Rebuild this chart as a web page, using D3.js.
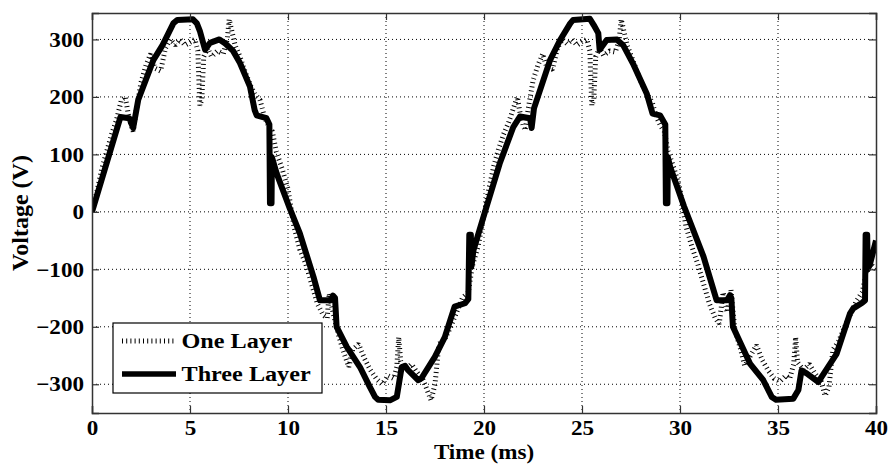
<!DOCTYPE html>
<html>
<head>
<meta charset="utf-8">
<script src="https://cdn.jsdelivr.net/npm/d3@7"></script>
<style>
  html, body { margin: 0; padding: 0; background: #fff; }
  text.serif { font-family: "Liberation Serif", "DejaVu Serif", serif; font-weight: bold; }
</style>
</head>
<body>
<svg id="chart" width="891" height="464"></svg>
<script>
// ---------- data ----------
const xTicks = [0, 5, 10, 15, 20, 25, 30, 35, 40];
const yTicks = [-300, -200, -100, 0, 100, 200, 300];
const seriesNames = ["One Layer", "Three Layer"];

// Three Layer (time in ms, voltage in V)
const threeT = [0, 1.45, 1.9, 2.1, 2.36, 3.13, 3.6, 4.15, 4.35, 5.15, 5.35, 5.5, 5.68, 5.77, 6.02, 6.5, 6.8, 7.2, 7.55, 8.06, 8.3, 8.4, 8.9, 9.05, 9.08, 9.16, 9.18, 9.42, 10.1, 10.6, 11.3, 11.63, 12.14, 12.3, 12.4, 12.48, 13.0, 13.67, 14.18, 14.44, 14.6, 15.2, 15.55, 15.8, 15.97, 16.14, 16.65, 16.8, 17.5, 18.0, 18.5, 19.03, 19.2, 19.25, 19.33, 19.36, 19.46, 20.05,
  20.8, 21.5, 21.84, 22.35, 22.43, 22.55, 23.37, 23.9, 24.4, 24.55, 25.4, 25.6, 25.83, 25.9, 26.26, 26.77, 27.1, 27.6, 28.3, 28.6, 28.98, 29.25, 29.28, 29.36, 29.38, 29.5, 30.2, 30.68, 31.2, 31.87, 32.4, 32.55, 32.62, 32.7, 33.57, 34.25, 34.68, 34.9, 35.78, 36.04, 36.2, 36.46, 37.06, 37.99, 38.67, 38.84, 39.3, 39.44, 39.47, 39.55, 39.58, 39.7, 40];
const threeV = [0, 165, 163, 146, 195, 264, 290, 328, 334, 335, 328, 315, 293, 282, 294, 300, 293, 280, 259, 218, 177, 168, 163, 152, 15, 15, 95, 67, 5, -37, -113, -154, -154, -146, -150, -200, -235, -270, -305, -322, -327, -328, -322, -270, -268, -276, -293, -290, -252, -218, -165, -159, -152, -40, -40, -95, -67, 0,
  84, 148, 166, 163, 146, 180, 264, 300, 328, 334, 336, 325, 311, 282, 299, 300, 290, 258, 206, 171, 168, 152, 15, 15, 95, 78, 10, -32, -78, -154, -154, -145, -150, -200, -264, -293, -322, -327, -325, -310, -276, -281, -296, -247, -177, -168, -158, -154, -40, -40, -100, -90, -50];

// One Layer
const oneT = [0, 0.25, 0.5, 0.75, 1.0, 1.25, 1.5, 1.7, 1.85, 2.0, 2.1, 2.25, 2.5, 2.75, 3.0, 3.2, 3.5, 3.75, 4.0, 4.25, 4.5, 4.75, 5.0, 5.25, 5.4, 5.5, 5.6, 5.7, 5.9, 6.1, 6.4, 6.7, 6.9, 7.0, 7.1, 7.3, 7.55, 7.8, 8.06, 8.3, 8.57, 8.8, 9.0, 9.2, 9.4, 9.7, 10.0, 10.3, 10.6, 10.9, 11.2, 11.5, 11.8, 12.0, 12.1, 12.3, 12.5, 12.8, 13.1, 13.3, 13.6, 13.9, 14.2, 14.5, 14.8, 15.1, 15.4, 15.55, 15.65, 15.75, 16.0, 16.3, 16.6, 16.9, 17.1, 17.3, 17.5, 17.7, 18.0, 18.3, 18.6, 18.9, 19.2, 19.4, 19.7, 20.0,
  20.25, 20.5, 20.75, 21.0, 21.25, 21.5, 21.7, 21.85, 22.0, 22.1, 22.25, 22.5, 22.75, 23.0, 23.2, 23.5, 23.75, 24.0, 24.25, 24.5, 24.75, 25.0, 25.25, 25.4, 25.5, 25.6, 25.7, 25.9, 26.1, 26.4, 26.7, 26.9, 27.0, 27.1, 27.3, 27.55, 27.8, 28.06, 28.3, 28.57, 28.8, 29.0, 29.2, 29.4, 29.7, 30.0, 30.3, 30.6, 30.9, 31.2, 31.5, 31.8, 32.0, 32.2, 32.4, 32.6, 32.8, 33.1, 33.3, 33.6, 33.9, 34.2, 34.5, 34.8, 35.1, 35.4, 35.6, 35.8, 35.9, 36.0, 36.3, 36.6, 36.9, 37.2, 37.4, 37.6, 37.8, 38.1, 38.4, 38.7, 39.0, 39.3, 39.5, 39.7, 40.0];
const oneV = [0, 35, 75, 105, 135, 160, 195, 200, 170, 150, 140, 175, 225, 255, 275, 250, 245, 285, 300, 290, 300, 290, 295, 300, 280, 185, 195, 270, 285, 270, 280, 275, 300, 335, 320, 290, 270, 245, 222, 205, 195, 165, 150, 140, 105, 75, 40, -25, -65, -90, -125, -160, -180, -185, -142, -175, -205, -240, -270, -240, -230, -255, -275, -290, -300, -285, -290, -270, -218, -260, -275, -265, -280, -293, -310, -328, -300, -230, -222, -200, -175, -150, -140, -95, -60, -5,
  40, 80, 110, 135, 155, 180, 200, 170, 150, 142, 178, 228, 255, 275, 252, 248, 285, 300, 292, 300, 290, 296, 300, 280, 185, 195, 270, 285, 272, 280, 278, 300, 335, 320, 290, 268, 245, 222, 205, 192, 165, 150, 140, 105, 75, 40, -25, -60, -90, -125, -160, -185, -195, -140, -175, -136, -205, -240, -268, -250, -232, -258, -276, -290, -295, -285, -290, -265, -218, -262, -275, -265, -282, -295, -320, -305, -240, -225, -200, -178, -155, -140, -105, -90, -100];

// ---------- layout ----------
const W = 891, H = 464;
const margin = { left: 92, top: 13, right: 15, bottom: 51 };
const pw = W - margin.left - margin.right;   // 784
const ph = H - margin.top - margin.bottom;   // 400
const SX = 1.1; // horizontal stretch of the lettering

const svg = d3.select("#chart");
const g = svg.append("g").attr("transform", `translate(${margin.left},${margin.top})`);

const x = d3.scaleLinear().domain([0, 40]).range([0, pw]);
const y = d3.scaleLinear().domain([-350, 346]).range([ph, 0]);

// grid
const grid = g.append("g").attr("class", "grid");
grid.selectAll("line.gx").data(xTicks.filter(d => d > 0 && d < 40)).enter().append("line")
  .attr("x1", d => x(d)).attr("x2", d => x(d)).attr("y1", 0).attr("y2", ph)
  .attr("stroke", "#000").attr("stroke-width", 1).attr("stroke-dasharray", "1,3");
grid.selectAll("line.gy").data(yTicks).enter().append("line")
  .attr("y1", d => y(d)).attr("y2", d => y(d)).attr("x1", 0).attr("x2", pw)
  .attr("stroke", "#000").attr("stroke-width", 1).attr("stroke-dasharray", "1,3");

// clip
svg.append("defs").append("clipPath").attr("id", "clip")
  .append("rect").attr("x", 0).attr("y", 0).attr("width", pw).attr("height", ph);

const line = d3.line().x(d => x(d[0])).y(d => y(d[1]));
const onePts = oneT.map((t, i) => [t, oneV[i]]);
const threePts = threeT.map((t, i) => [t, threeV[i]]);

const plot = g.append("g").attr("clip-path", "url(#clip)");
plot.append("path").datum(onePts).attr("d", line)
  .attr("fill", "none").attr("stroke", "#000").attr("stroke-width", 5)
  .attr("stroke-dasharray", "1,3.2").attr("stroke-linejoin", "bevel");
plot.append("path").datum(threePts).attr("d", line)
  .attr("fill", "none").attr("stroke", "#000").attr("stroke-width", 6)
  .attr("stroke-linejoin", "round").attr("stroke-linecap", "butt");

// axes (ticks inside, on all four sides)
const tickLen = 7;
const axB = g.append("g").attr("transform", `translate(0,${ph})`)
  .call(d3.axisBottom(x).tickValues(xTicks).tickSize(-tickLen).tickPadding(7.5).tickFormat(d3.format("d")));
const axT = g.append("g")
  .call(d3.axisTop(x).tickValues(xTicks).tickSize(-tickLen).tickFormat(""));
const axL = g.append("g")
  .call(d3.axisLeft(y).tickValues(yTicks).tickSize(-tickLen).tickPadding(8).tickFormat(d3.format("d")));
const axR = g.append("g").attr("transform", `translate(${pw},0)`)
  .call(d3.axisRight(y).tickValues(yTicks).tickSize(-tickLen).tickFormat(""));
[axB, axT, axL, axR].forEach(a => {
  a.attr("font-family", null).attr("font-size", null);
  a.select(".domain").attr("stroke", "#333").attr("stroke-width", 1.5);
  a.selectAll(".tick line").attr("stroke", "#333").attr("stroke-width", 1.2);
});
axB.selectAll(".tick text").attr("class", "serif").attr("font-size", 21).attr("fill", "#000")
  .attr("dy", "0.71em").attr("transform", `scale(${SX},1)`);
axL.selectAll(".tick text").attr("class", "serif").attr("font-size", 21).attr("fill", "#000")
  .attr("x", -8 / SX).attr("transform", `scale(${SX},1)`);

// axis labels
g.append("text").attr("class", "serif")
  .attr("transform", `translate(${pw / 2},${ph + 46}) scale(${SX},1)`)
  .attr("text-anchor", "middle").attr("font-size", 21).text("Time (ms)");
svg.append("text").attr("class", "serif").attr("transform", `translate(28,${margin.top + ph / 2}) rotate(-90)`)
  .attr("text-anchor", "middle").attr("font-size", 24).text("Voltage (V)");

// legend
const lg = g.append("g").attr("transform", `translate(${113 - margin.left},${323 - margin.top})`);
lg.append("rect").attr("x", 0).attr("y", 0).attr("width", 209).attr("height", 70)
  .attr("fill", "#fff").attr("stroke", "#000").attr("stroke-width", 1.2);
const legendStyles = [
  { dash: "1,3.2", w: 5 },
  { dash: null, w: 5.5 }
];
seriesNames.forEach((name, i) => {
  const yy = 18 + i * 33;
  lg.append("line").attr("x1", 9).attr("x2", 63).attr("y1", yy).attr("y2", yy)
    .attr("stroke", "#000").attr("stroke-width", legendStyles[i].w)
    .attr("stroke-dasharray", legendStyles[i].dash);
  lg.append("text").attr("class", "serif")
    .attr("transform", `translate(68.5,${yy + 7}) scale(${SX},1)`)
    .attr("font-size", 22).text(name);
});
</script>
</body>
</html>
